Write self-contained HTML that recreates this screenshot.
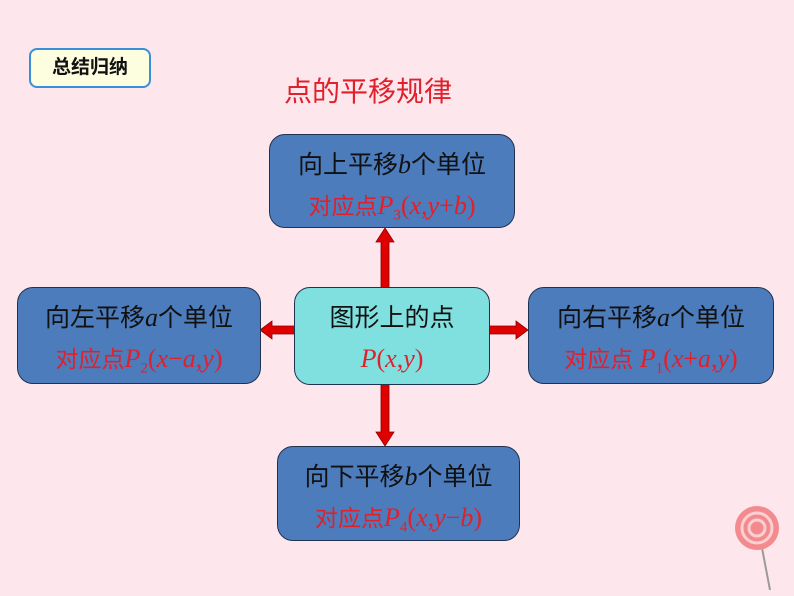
<!DOCTYPE html>
<html><head><meta charset="utf-8"><style>
body{margin:0;width:794px;height:596px;background:#fde6ec;position:relative;overflow:hidden;font-family:"Liberation Sans","Noto Sans CJK SC",sans-serif}
.b{position:absolute;box-sizing:border-box;border:1.5px solid #1f3350;border-radius:16px;background:#4c7cbc;text-align:center;color:#111;font-size:25px;white-space:nowrap}
.b .l1{position:absolute;left:0;right:0;top:13px;line-height:34px}
.b .l2{position:absolute;left:0;right:0;top:56px;line-height:30px;color:#e0202a;font-size:23px}
i{font-family:"Liberation Serif",serif;font-style:italic;font-size:26px}
sub{font-size:15px;font-family:"Liberation Serif",serif}
.ser{font-family:"Liberation Serif",serif;font-size:26px}
</style></head><body>
<div style="position:absolute;left:29px;top:48px;width:122px;height:40px;box-sizing:border-box;border:2.5px solid #3a8fd8;border-radius:8px;background:#fdfde0;text-align:center;line-height:35px;font-weight:bold;font-size:19px;color:#111">总结归纳</div>
<div style="position:absolute;left:284px;top:70px;font-size:28px;color:#e0202a">点的平移规律</div>
<svg width="794" height="596" style="position:absolute;left:0;top:0">
<g fill="#e00000" stroke="#8a0000" stroke-width="0.8">
<polygon points="381,290 381,242 376,242 385,228 394,242 389,242 389,290"/>
<polygon points="381,383 381,432 376,432 385,446 394,432 389,432 389,383"/>
<polygon points="296,326 272,326 272,321 260,330 272,339 272,334 296,334"/>
<polygon points="488,326 516,326 516,321 528,330 516,339 516,334 488,334"/>
</g>
<line x1="762" y1="548" x2="770" y2="590" stroke="#999" stroke-width="2"/>
<circle cx="757" cy="528" r="22" fill="#f28a8e"/>
<circle cx="757" cy="528" r="15" fill="none" stroke="#fcd0d2" stroke-width="3"/>
<circle cx="757" cy="528" r="8" fill="none" stroke="#fcd0d2" stroke-width="3"/>
</svg>
<div class="b" style="left:269px;top:134px;width:246px;height:94px"><div class="l1">向上平移<i>b</i>个单位</div><div class="l2">对应点<i>P</i><sub>3</sub><span class="ser">(<i>x</i>,<i>y</i>+<i>b</i>)</span></div></div>
<div class="b" style="left:17px;top:287px;width:244px;height:97px"><div class="l1">向左平移<i>a</i>个单位</div><div class="l2">对应点<i>P</i><sub>2</sub><span class="ser">(<i>x</i>−<i>a</i>,<i>y</i>)</span></div></div>
<div class="b" style="left:528px;top:287px;width:246px;height:97px"><div class="l1">向右平移<i>a</i>个单位</div><div class="l2">对应点 <i>P</i><sub>1</sub><span class="ser">(<i>x</i>+<i>a</i>,<i>y</i>)</span></div></div>
<div class="b" style="left:294px;top:287px;width:196px;height:98px;background:#80e0e0"><div class="l1">图形上的点</div><div class="l2"><i>P</i><span class="ser">(<i>x</i>,<i>y</i>)</span></div></div>
<div class="b" style="left:277px;top:446px;width:243px;height:95px"><div class="l1">向下平移<i>b</i>个单位</div><div class="l2">对应点<i>P</i><sub>4</sub><span class="ser">(<i>x</i>,<i>y</i>−<i>b</i>)</span></div></div>
</body></html>
